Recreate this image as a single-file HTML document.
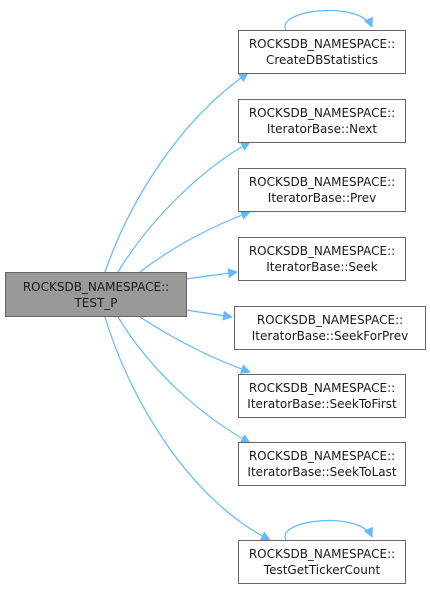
<!DOCTYPE html>
<html><head><meta charset="utf-8"><style>
html,body{margin:0;padding:0;background:#fff;}
svg{display:block;}
text{font-family:"DejaVu Sans","Liberation Sans",sans-serif;font-size:12px;fill:#1a1a1a;text-anchor:middle;}
</style></head><body>
<svg width="430" height="589" viewBox="0 0 430 589" xmlns="http://www.w3.org/2000/svg">
<defs>
<marker id="a" viewBox="0 0 10 10" refX="9" refY="5" markerWidth="10" markerHeight="10" markerUnits="userSpaceOnUse" orient="auto">
<path d="M0,0 L10,5 L0,10 z" fill="#63b8ff"/>
</marker>
</defs>
<g fill="none" stroke="#63b8ff" stroke-width="1.2" marker-end="url(#a)">
<path d="M105,272 C130,200 180,120 248,73"/>
<path d="M118,272 C150,220 200,170 250,142"/>
<path d="M140,272 C175,245 215,225 250,212"/>
<path d="M186,279 L237,272"/>
<path d="M186,310 L232,317"/>
<path d="M140,317 C175,340 215,360 250,372"/>
<path d="M118,317 C150,370 200,415 250,443"/>
<path d="M105,317 C130,400 190,500 270,540"/>
<path d="M286,30 C275,10 360,0 372,27"/>
<path d="M286,540 C275,520 360,510 372,537"/>
</g>
<g stroke="#666" stroke-width="1" fill="#fff">
<rect x="5.5" y="272.5" width="181" height="44" fill="#999"/>
<rect x="238.5" y="30.5" width="167" height="43"/>
<rect x="238.5" y="99.5" width="167" height="43"/>
<rect x="238.5" y="168.5" width="167" height="43"/>
<rect x="238.5" y="237.5" width="167" height="43"/>
<rect x="234.5" y="306.5" width="191" height="43"/>
<rect x="238.5" y="374.5" width="167" height="43"/>
<rect x="238.5" y="442.5" width="167" height="43"/>
<rect x="238.5" y="540.5" width="167" height="43"/>
</g>
<text x="96" y="291">ROCKSDB_NAMESPACE::</text><text x="96" y="307">TEST_P</text>
<text x="322" y="48">ROCKSDB_NAMESPACE::</text><text x="322" y="64">CreateDBStatistics</text>
<text x="322" y="117">ROCKSDB_NAMESPACE::</text><text x="322" y="133">IteratorBase::Next</text>
<text x="322" y="186">ROCKSDB_NAMESPACE::</text><text x="322" y="202">IteratorBase::Prev</text>
<text x="322" y="255">ROCKSDB_NAMESPACE::</text><text x="322" y="271">IteratorBase::Seek</text>
<text x="330" y="324">ROCKSDB_NAMESPACE::</text><text x="330" y="340">IteratorBase::SeekForPrev</text>
<text x="322" y="392">ROCKSDB_NAMESPACE::</text><text x="322" y="408">IteratorBase::SeekToFirst</text>
<text x="322" y="460">ROCKSDB_NAMESPACE::</text><text x="322" y="476">IteratorBase::SeekToLast</text>
<text x="322" y="558">ROCKSDB_NAMESPACE::</text><text x="322" y="574">TestGetTickerCount</text>
</svg>
</body></html>
